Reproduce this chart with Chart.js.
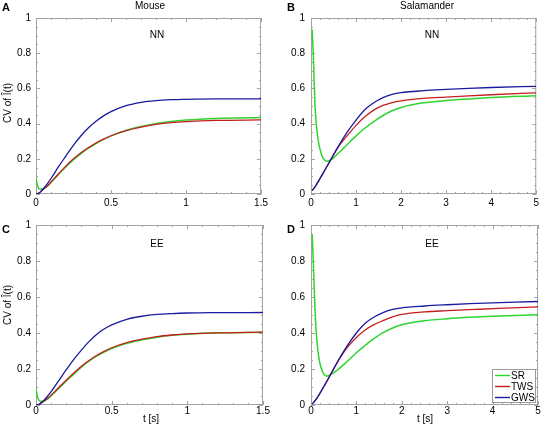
<!DOCTYPE html>
<html>
<head>
<meta charset="utf-8">
<script src="https://cdn.jsdelivr.net/npm/chart.js@4.4.1/dist/chart.umd.min.js"></script>
<style>
  body { margin: 0; background: #fff; font-family: "Liberation Sans", Arial, sans-serif; }
  #fig { position: relative; width: 542px; height: 433px; overflow: hidden; }
  canvas { position: absolute; }
  .t { position: absolute; font-size: 10px; line-height: 1; white-space: nowrap; color: #000;
       transform: translate(-50%, -50%); }
  .let { font-size: 11px; font-weight: bold; }
  .rot { transform: translate(-50%, -50%) rotate(-90deg); }
</style>
</head>
<body>
<div id="fig">
  <canvas id="pA" width="271" height="212" style="left:0;top:0"></canvas>
  <canvas id="pB" width="271" height="212" style="left:271px;top:0"></canvas>
  <canvas id="pC" width="271" height="221" style="left:0;top:212px"></canvas>
  <canvas id="pD" width="271" height="221" style="left:271px;top:212px"></canvas>

  <div class="t let" style="left:6px;top:7px">A</div>
  <div class="t let" style="left:291px;top:7px">B</div>
  <div class="t let" style="left:6px;top:229px">C</div>
  <div class="t let" style="left:291px;top:229px">D</div>

  <div class="t" style="left:150px;top:6px">Mouse</div>
  <div class="t" style="left:427px;top:6px">Salamander</div>

  <div class="t" style="left:157px;top:35px">NN</div>
  <div class="t" style="left:432px;top:35px">NN</div>
  <div class="t" style="left:157px;top:244px">EE</div>
  <div class="t" style="left:432px;top:244px">EE</div>

  <div class="t rot" style="left:8px;top:103px">CV of Î(t)</div>
  <div class="t rot" style="left:8px;top:305px">CV of Î(t)</div>

  <div class="t" style="left:151px;top:419px">t [s]</div>
  <div class="t" style="left:425px;top:419px">t [s]</div>
</div>

<script>
'use strict';

// series names (legend order)
const seriesNames = ['SR', 'TWS', 'GWS'];

// tick labels
const yTicks = [0, 0.2, 0.4, 0.6, 0.8, 1];
const xTicksMouse = [0, 0.5, 1, 1.5];
const xTicksSal = [0, 1, 2, 3, 4, 5];

// Mouse, time in s
const tMouse = [0, 0.01, 0.02, 0.03, 0.05, 0.075, 0.1, 0.15, 0.2, 0.25, 0.3, 0.35, 0.4, 0.45, 0.5, 0.6, 0.7, 0.8, 0.9, 1.0, 1.2, 1.5];
const mouseNN_SR  = [0.09, 0.048, 0.03, 0.027, 0.032, 0.044, 0.065, 0.111, 0.155, 0.195, 0.229, 0.26, 0.287, 0.31, 0.33, 0.361, 0.383, 0.4, 0.412, 0.42, 0.429, 0.435];
const mouseNN_TWS = [0, 0.002, 0.006, 0.012, 0.027, 0.045, 0.068, 0.115, 0.16, 0.2, 0.234, 0.264, 0.29, 0.312, 0.331, 0.36, 0.38, 0.395, 0.405, 0.411, 0.418, 0.421];
const mouseNN_GWS = [0, 0.002, 0.006, 0.012, 0.031, 0.058, 0.088, 0.155, 0.217, 0.278, 0.331, 0.376, 0.413, 0.444, 0.468, 0.502, 0.521, 0.531, 0.536, 0.538, 0.54, 0.54];
const mouseEE_SR  = [0.09, 0.045, 0.026, 0.021, 0.022, 0.033, 0.051, 0.092, 0.133, 0.171, 0.21, 0.243, 0.271, 0.294, 0.314, 0.343, 0.362, 0.377, 0.387, 0.393, 0.401, 0.404];
const mouseEE_TWS = [0, 0.001, 0.004, 0.009, 0.02, 0.036, 0.055, 0.097, 0.138, 0.178, 0.215, 0.247, 0.275, 0.298, 0.318, 0.347, 0.366, 0.38, 0.389, 0.395, 0.401, 0.405];
const mouseEE_GWS = [0, 0.001, 0.004, 0.009, 0.024, 0.047, 0.074, 0.135, 0.196, 0.254, 0.305, 0.352, 0.392, 0.422, 0.445, 0.476, 0.493, 0.503, 0.508, 0.511, 0.513, 0.514];

// Salamander, time in s
const tSal = [0.025, 0.05, 0.07, 0.09, 0.12, 0.16, 0.2, 0.25, 0.3, 0.35, 0.45, 0.6, 0.8, 1.0, 1.2, 1.4, 1.6, 1.8, 2.0, 2.5, 3, 3.5, 4, 5];
const salNN_SR  = [0.935, 0.8, 0.64, 0.5, 0.39, 0.305, 0.255, 0.213, 0.193, 0.186, 0.195, 0.23, 0.28, 0.33, 0.375, 0.413, 0.446, 0.473, 0.492, 0.518, 0.531, 0.54, 0.548, 0.558];
const salNN_TWS = [0.02, 0.027, 0.034, 0.041, 0.053, 0.07, 0.088, 0.11, 0.132, 0.155, 0.2, 0.265, 0.33, 0.39, 0.44, 0.478, 0.503, 0.519, 0.529, 0.543, 0.551, 0.558, 0.564, 0.575];
const salNN_GWS = [0.02, 0.027, 0.034, 0.041, 0.053, 0.07, 0.088, 0.11, 0.132, 0.155, 0.2, 0.268, 0.35, 0.42, 0.48, 0.52, 0.548, 0.566, 0.576, 0.587, 0.594, 0.6, 0.605, 0.612];
const salEE_SR  = [0.95, 0.8, 0.65, 0.52, 0.39, 0.285, 0.228, 0.188, 0.166, 0.16, 0.172, 0.198, 0.243, 0.29, 0.333, 0.371, 0.403, 0.428, 0.446, 0.468, 0.479, 0.487, 0.493, 0.502];
const salEE_TWS = [0.005, 0.012, 0.018, 0.024, 0.034, 0.05, 0.066, 0.088, 0.11, 0.132, 0.178, 0.245, 0.32, 0.375, 0.418, 0.448, 0.47, 0.49, 0.503, 0.517, 0.524, 0.53, 0.535, 0.545];
const salEE_GWS = [0.005, 0.012, 0.018, 0.024, 0.034, 0.05, 0.066, 0.088, 0.11, 0.132, 0.178, 0.247, 0.33, 0.4, 0.455, 0.49, 0.515, 0.531, 0.54, 0.55, 0.557, 0.563, 0.567, 0.575];

const FONT = '"Liberation Sans", Arial, sans-serif';
const colors = ['#2fd42f', '#c41e1e', '#1a1a9e'];
const drawOrder = [3, 2, 1]; // GWS on top

// frame with inward ticks on all four sides (Mathematica style)
const frameTicks = {
  id: 'frameTicks',
  beforeDatasetsDraw(chart, args, o) {
    const {ctx, chartArea: a, scales} = chart;
    ctx.save();
    ctx.strokeStyle = '#a3a3a3';
    ctx.lineWidth = 1;
    ctx.strokeRect(a.left + 0.5, a.top + 0.5, a.width - 1, a.height - 1);
    ctx.beginPath();
    const mark = (scale, step, len) => {
      const n = Math.round((scale.max - scale.min) / step);
      for (let i = 0; i <= n; i++) {
        const p = Math.round(scale.getPixelForValue(scale.min + i * step)) + 0.5;
        if (scale.isHorizontal()) {
          ctx.moveTo(p, a.bottom); ctx.lineTo(p, a.bottom - len);
          ctx.moveTo(p, a.top); ctx.lineTo(p, a.top + len);
        } else {
          ctx.moveTo(a.left, p); ctx.lineTo(a.left + len, p);
          ctx.moveTo(a.right, p); ctx.lineTo(a.right - len, p);
        }
      }
    };
    mark(scales.x, o.xMinor, 2);
    mark(scales.x, o.xMajor, 4);
    mark(scales.y, 0.05, 2);
    mark(scales.y, 0.2, 4);
    ctx.stroke();
    ctx.restore();
  }
};

// small boxed legend in the lower right of the plot
const boxLegend = {
  id: 'boxLegend',
  afterDatasetsDraw(chart, args, o) {
    if (!o.show) return;
    const {ctx, chartArea: a} = chart;
    const w = 43, h = 33;
    const x0 = a.right - w - 3, y0 = a.bottom - h - 3;
    ctx.save();
    ctx.fillStyle = '#fff';
    ctx.fillRect(x0, y0, w, h);
    ctx.strokeStyle = '#999';
    ctx.lineWidth = 1;
    ctx.strokeRect(x0 + 0.5, y0 + 0.5, w, h);
    ctx.font = '10px ' + FONT;
    ctx.textBaseline = 'middle';
    chart.data.datasets.forEach((ds, i) => {
      const y = y0 + 6 + i * 11;
      ctx.strokeStyle = ds.borderColor;
      ctx.lineWidth = 1.4;
      ctx.beginPath();
      ctx.moveTo(x0 + 3, y + 0.5); ctx.lineTo(x0 + 18, y + 0.5);
      ctx.stroke();
      ctx.fillStyle = '#000';
      ctx.fillText(ds.label, x0 + 19, y + 1);
    });
    ctx.restore();
  }
};

const makePanel = function(id, t, series, xTicks, cfg) {
  const datasets = series.map((vals, i) => ({
    label: seriesNames[i],
    data: t.map((x, k) => ({x: x, y: vals[k]})),
    borderColor: colors[i],
    borderWidth: i === 0 ? 1.5 : 1.3,
    pointRadius: 0,
    cubicInterpolationMode: 'monotone',
    order: drawOrder[i]
  }));

  new Chart(document.getElementById(id), {
    type: 'line',
    data: { datasets: datasets },
    plugins: [frameTicks, boxLegend],
    options: {
      responsive: false,
      animation: false,
      layout: { padding: { top: cfg.top, right: cfg.right, left: 0, bottom: 0 } },
      plugins: {
        legend: { display: false },
        tooltip: { enabled: false },
        frameTicks: { xMajor: xTicks[1] - xTicks[0], xMinor: cfg.xMinor },
        boxLegend: { show: !!cfg.legend }
      },
      scales: {
        x: {
          type: 'linear',
          min: xTicks[0],
          max: xTicks[xTicks.length - 1],
          grid: { display: false, drawTicks: false, tickLength: 0 },
          border: { display: false },
          ticks: {
            font: { family: FONT, size: 10 },
            color: '#000',
            padding: cfg.xPad,
            maxRotation: 0,
            autoSkip: false,
            callback: v => String(v)
          },
          afterBuildTicks: s => { s.ticks = xTicks.map(v => ({value: v})); },
          afterFit: s => { s.height = cfg.xHeight; }
        },
        y: {
          min: 0,
          max: 1,
          grid: { display: false, drawTicks: false, tickLength: 0 },
          border: { display: false },
          ticks: {
            font: { family: FONT, size: 10 },
            color: '#000',
            padding: cfg.yPad,
            autoSkip: false,
            callback: v => String(v)
          },
          afterBuildTicks: s => { s.ticks = yTicks.map(v => ({value: v})); },
          afterFit: s => { s.width = cfg.yWidth; }
        }
      }
    }
  });
};

makePanel('pA', tMouse, [mouseNN_SR, mouseNN_TWS, mouseNN_GWS], xTicksMouse,
  { top: 18, right: 8, yWidth: 36, xHeight: 18, xPad: 3, yPad: 5, xMinor: 0.1 });
makePanel('pB', tSal, [salNN_SR, salNN_TWS, salNN_GWS], xTicksSal,
  { top: 18, right: 4, yWidth: 40, xHeight: 18, xPad: 3, yPad: 6, xMinor: 0.2 });
makePanel('pC', tMouse, [mouseEE_SR, mouseEE_TWS, mouseEE_GWS], xTicksMouse,
  { top: 13, right: 8, yWidth: 36, xHeight: 28, xPad: 0, yPad: 5, xMinor: 0.1 });
makePanel('pD', tSal, [salEE_SR, salEE_TWS, salEE_GWS], xTicksSal,
  { top: 13, right: 4, yWidth: 40, xHeight: 28, xPad: 0, yPad: 6, xMinor: 0.2, legend: true });
</script>
</body>
</html>
